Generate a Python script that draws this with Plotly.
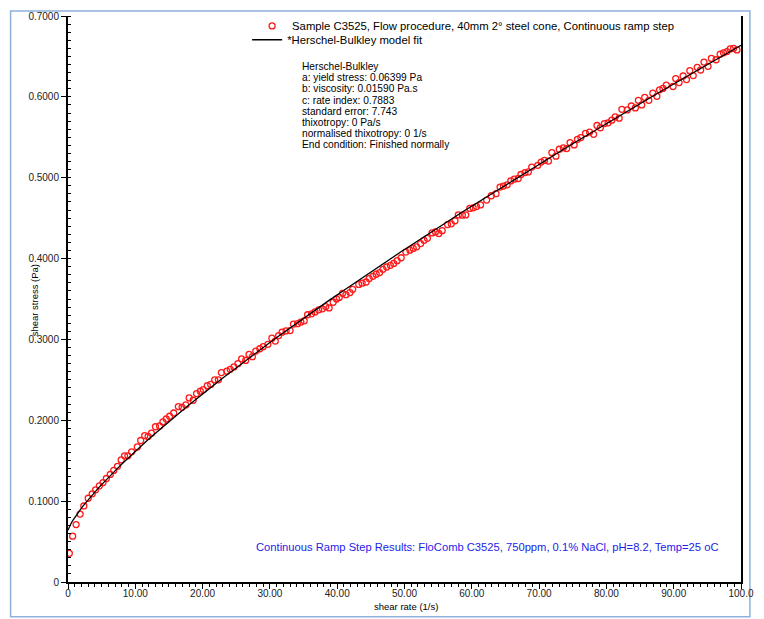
import numpy as np
import plotly.graph_objects as go

# Measured flow curve: shear rate (1/s) and shear stress (Pa)
shear_rate = [
    0.2, 0.69, 1.2, 1.8, 2.35, 3.0, 3.6, 4.1, 4.66, 5.2, 5.7, 6.28, 6.8, 7.35, 7.9, 8.4, 8.9, 9.45,
    10.3, 10.8, 11.4, 11.9, 12.4, 13.0, 13.6, 14.1, 14.6, 15.1, 15.7, 16.4, 16.95, 17.5, 18.0, 18.6, 19.1,
    19.66, 20.1, 20.7, 21.2, 21.8, 22.35, 22.8, 23.6, 24.1, 24.66, 25.25, 25.8, 26.4, 26.9, 27.4, 27.9,
    28.5, 29.0, 29.7, 30.3, 30.8, 31.3, 31.8, 32.4, 33.0, 33.5, 34.1, 34.6, 35.1, 35.6, 36.2, 36.7,
    37.25, 37.8, 38.3, 38.8, 39.4, 39.9,
    40.3, 40.8, 41.3, 41.9, 42.3, 43.2, 43.7, 44.3, 44.75, 45.3, 45.8, 46.3, 46.8, 47.35, 47.9, 48.4,
    48.9, 49.5, 50.2, 50.8, 51.3, 51.8, 52.4, 52.9, 53.4, 54.1, 54.6, 55.1, 55.6, 56.4, 56.95, 57.5,
    58.0, 58.6, 59.1, 59.7, 60.2, 60.7, 61.3,
    62.2, 62.9, 63.6, 64.2, 64.7, 65.25, 65.8, 66.3, 66.9, 67.3, 67.9, 68.4, 68.9, 69.8, 70.3, 70.8,
    71.4, 71.9, 72.5, 73.0, 73.6, 74.1, 74.6, 75.2, 75.7, 76.2, 76.9, 77.5, 78.1, 78.6, 79.1, 79.7,
    80.25, 80.8,
    81.3, 81.9, 82.3, 83.1, 83.7, 84.3, 84.75, 85.25, 85.7, 86.3, 86.9, 87.5, 87.9, 88.4, 88.9, 89.9,
    90.3, 90.8, 91.4, 91.9, 92.4, 92.9, 93.5, 94.0, 94.5, 95.1, 95.6, 96.3, 96.9, 97.4, 97.9, 98.4,
    98.9, 99.4,
]
shear_stress = [
    0.0355, 0.0567, 0.071, 0.084, 0.094, 0.1036, 0.109, 0.114, 0.119, 0.123, 0.128, 0.133, 0.138, 0.143,
    0.151, 0.156, 0.156, 0.161,
    0.167, 0.175, 0.181, 0.180, 0.184, 0.192, 0.193, 0.198, 0.2016, 0.205, 0.209, 0.217, 0.216, 0.219,
    0.2277, 0.2248, 0.233,
    0.236, 0.238, 0.2427, 0.2444, 0.250, 0.250, 0.259, 0.2607, 0.263, 0.266, 0.270, 0.276, 0.274,
    0.2815, 0.2787, 0.2856, 0.2885, 0.291, 0.294, 0.3015, 0.298, 0.3048, 0.309, 0.3105, 0.311, 0.319,
    0.3195, 0.3215, 0.323, 0.3305, 0.3317, 0.334, 0.3366, 0.3378, 0.3406, 0.339, 0.346, 0.350,
    0.352, 0.357, 0.3553, 0.358, 0.362, 0.368, 0.3696, 0.371, 0.3753, 0.378, 0.3806, 0.3827, 0.3867,
    0.3896, 0.3916, 0.394, 0.3974, 0.401, 0.408, 0.4104, 0.4125, 0.4145, 0.4186, 0.4226, 0.425,
    0.4317, 0.433, 0.431, 0.4345, 0.442, 0.443, 0.4468, 0.454, 0.4537, 0.454, 0.462, 0.4627, 0.4643,
    0.4663,
    0.4724, 0.4777, 0.4802, 0.4884, 0.4896, 0.4912, 0.496, 0.4982, 0.499, 0.504, 0.5063, 0.5071,
    0.5132, 0.5153, 0.5193, 0.5214, 0.5206, 0.531, 0.5267, 0.5352, 0.537, 0.536, 0.5434, 0.5406,
    0.5475, 0.5496, 0.5548, 0.5565, 0.5536, 0.5646, 0.5618, 0.567, 0.5679, 0.5712,
    0.5752, 0.5736, 0.5846, 0.5838, 0.5887, 0.5863, 0.5957, 0.590, 0.5993, 0.5957, 0.6046, 0.6006,
    0.6087, 0.6104, 0.6144, 0.6128, 0.6226, 0.6177, 0.6258, 0.6214, 0.6324, 0.6263, 0.6365, 0.6332,
    0.6430, 0.6377, 0.6475, 0.6459, 0.6528, 0.6545, 0.656, 0.6593, 0.660, 0.658,
]

# Herschel-Bulkley fit parameters
yield_stress = 0.06399   # Pa
viscosity = 0.01590      # Pa.s
rate_index = 0.7883

fit_rate = np.linspace(0, 100, 401)
fit_stress = yield_stress + viscosity * fit_rate ** rate_index

y_tickvals = [0, 0.1, 0.2, 0.3, 0.4, 0.5, 0.6, 0.7]
y_ticktext = ["0", "0.1000", "0.2000", "0.3000", "0.4000", "0.5000", "0.6000", "0.7000"]
x_tickvals = [0, 10, 20, 30, 40, 50, 60, 70, 80, 90, 100]
x_ticktext = ["0", "10.00", "20.00", "30.00", "40.00", "50.00", "60.00", "70.00", "80.00", "90.00", "100.0"]

info_lines = [
    "Herschel-Bulkley",
    "a: yield stress: 0.06399 Pa",
    "b: viscosity: 0.01590 Pa.s",
    "c: rate index: 0.7883",
    "standard error: 7.743",
    "thixotropy: 0 Pa/s",
    "normalised thixotropy: 0 1/s",
    "End condition: Finished normally",
]

W, H = 764, 619
L, R, T, B = 68, 16, 10, 37
PW, PH = W - L - R, H - T - B


def px(x):
    return (x - L) / PW


def py(y):
    return (H - B - y) / PH


FONT = "Liberation Sans, Arial, sans-serif"

fig = go.Figure()
fig.add_trace(go.Scatter(
    x=shear_rate, y=shear_stress, mode="markers",
    name="Sample C3525, Flow procedure, 40mm 2° steel cone, Continuous ramp step",
    marker=dict(symbol="circle-open", size=6, color="#ff1a1a", line=dict(width=1.3)),
    legend="legend",
))
fig.add_trace(go.Scatter(
    x=fit_rate, y=fit_stress, mode="lines",
    name="*Herschel-Bulkley model fit",
    line=dict(color="black", width=1.3),
    legend="legend2",
))

annotations = []
for i, line in enumerate(info_lines):
    annotations.append(dict(
        text=line, xref="paper", yref="paper", x=px(302), y=py(61 + i * 11.3),
        xanchor="left", yanchor="middle", showarrow=False,
        font=dict(family=FONT, size=10.2, color="black"),
    ))
annotations.append(dict(
    text="Continuous Ramp Step Results: FloComb C3525, 750ppm, 0.1% NaCl, pH=8.2, Temp=25 oC",
    xref="paper", yref="paper", x=px(256), y=py(547), xanchor="left", yanchor="middle",
    showarrow=False, font=dict(family=FONT, size=11.2, color="#2323e8"),
))
annotations.append(dict(
    text="shear rate (1/s)", xref="paper", yref="paper", x=px(410), y=py(607),
    xanchor="center", yanchor="middle", showarrow=False,
    font=dict(family=FONT, size=9.5, color="black"),
))
annotations.append(dict(
    text="shear stress (Pa)", xref="paper", yref="paper", x=px(35), y=py(297),
    xanchor="center", yanchor="middle", showarrow=False, textangle=-90,
    font=dict(family=FONT, size=9.5, color="black"),
))

legend_style = dict(
    bgcolor="rgba(0,0,0,0)", borderwidth=0, itemwidth=30,
    font=dict(family=FONT, size=11.3, color="black"),
    xanchor="left", yanchor="middle", itemclick=False,
)

fig.update_layout(
    width=W, height=H,
    margin=dict(l=L, r=R, t=T, b=B),
    paper_bgcolor="white", plot_bgcolor="white",
    font=dict(family=FONT, size=10, color="black"),
    showlegend=True,
    legend=dict(x=px(254), y=py(20), **legend_style),
    legend2=dict(x=px(249), y=py(34), **legend_style),
    annotations=annotations,
    shapes=[dict(
        type="rect", xref="paper", yref="paper",
        x0=px(10), x1=px(757), y0=py(617), y1=py(5),
        line=dict(color="#8eb1de", width=1.5), fillcolor="rgba(0,0,0,0)", layer="below",
    )],
    xaxis=dict(
        range=[0, 100], showgrid=False, zeroline=False,
        showline=True, linecolor="black", linewidth=2, mirror=False,
        tickmode="array", tickvals=x_tickvals, ticktext=x_ticktext,
        ticks="outside", ticklen=5, tickwidth=1, tickcolor="black", ticklabelstandoff=-4,
        tickfont=dict(family=FONT, size=10, color="#222"),
        minor=dict(ticks="outside", dtick=1, tick0=0, ticklen=3, tickwidth=1, tickcolor="black"),
    ),
    yaxis=dict(
        range=[0, 0.7], showgrid=False, zeroline=False,
        showline=True, linecolor="black", linewidth=2, mirror=True,
        tickmode="array", tickvals=y_tickvals, ticktext=y_ticktext,
        ticks="outside", ticklen=5, tickwidth=1, tickcolor="black",
        tickfont=dict(family=FONT, size=10, color="#222"),
        minor=dict(ticks="inside", dtick=0.01, tick0=0, ticklen=3, tickwidth=1, tickcolor="black"),
    ),
)

fig.write_html("out.html")
